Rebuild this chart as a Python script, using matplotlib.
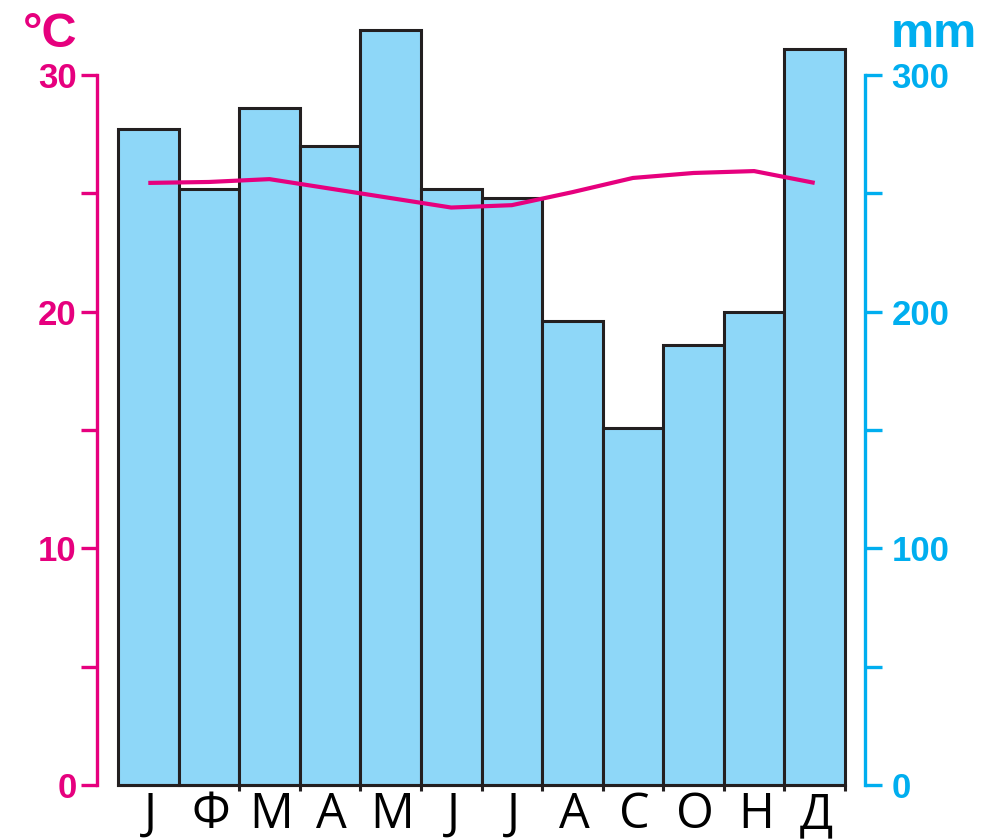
import matplotlib
matplotlib.use("Agg")
import matplotlib.pyplot as plt
import matplotlib.transforms as mtransforms
import numpy as np

months = ["Ј", "Ф", "М", "А", "М", "Ј", "Ј", "А", "С", "О", "Н", "Д"]
precip_mm = [277, 252, 286, 270, 319, 252, 248, 196, 151, 186, 200, 311]
temp_c = [25.44, 25.48, 25.6, 25.2, 24.8, 24.4, 24.5, 25.05, 25.65, 25.86, 25.94, 25.44]
temp_ticks = [0, 10, 20, 30]
precip_ticks = [0, 100, 200, 300]

MAGENTA = "#E6007E"
CYAN = "#00AEEF"
BARFILL = "#8ED7F8"
EDGE = "#231F20"

W, H = 991, 839
fig = plt.figure(figsize=(W / 100, H / 100), dpi=100)
ax = fig.add_axes([97 / W, (H - 785) / H, (865 - 97) / W, (785 - 75) / H])
ax2 = ax.twinx()
ax.set_zorder(ax2.get_zorder() + 1)
ax.patch.set_visible(False)

x = np.arange(len(months))
ax2.bar(x, precip_mm, width=1.0, color=BARFILL, edgecolor=EDGE,
        linewidth=2.2, clip_on=False, zorder=2)
ax.plot(x, temp_c, color=MAGENTA, linewidth=3, solid_capstyle="butt",
        solid_joinstyle="round", zorder=5)

px_per_unit = (845 - 118) / 12
xl = -0.5 - (118 - 97) / px_per_unit
xr = 11.5 + (865 - 845) / px_per_unit
ax.set_xlim(xl, xr)
ax.set_ylim(0, 30)
ax2.set_ylim(0, 300)

for a in (ax, ax2):
    a.spines["top"].set_visible(False)
ax.spines["right"].set_visible(False)
ax2.spines["left"].set_visible(False)
ax2.spines["bottom"].set_visible(False)

ax.spines["left"].set_color(MAGENTA)
ax.spines["left"].set_linewidth(2.4)
ax2.spines["right"].set_color(CYAN)
ax2.spines["right"].set_linewidth(2.4)
ax.spines["bottom"].set_color(EDGE)
ax.spines["bottom"].set_linewidth(2.2)
ax.spines["bottom"].set_bounds(-0.5, 11.5)

tickfont = dict(family="Liberation Sans", weight="bold", size=25)

ax.set_yticks(temp_ticks)
ax.set_yticks([5, 15, 25], minor=True)
ax.set_yticklabels([str(t) for t in temp_ticks], color=MAGENTA, fontdict=tickfont)
ax.tick_params(axis="y", which="both", direction="out", length=11.5, width=2.4,
               color=MAGENTA, pad=3)

ax2.set_yticks(precip_ticks)
ax2.set_yticks([50, 150, 250], minor=True)
ax2.set_yticklabels([str(t) for t in precip_ticks], color=CYAN, fontdict=tickfont)
ax2.tick_params(axis="y", which="both", direction="out", length=12, width=2.4,
                color=CYAN, pad=7)

ax.set_xticks(np.arange(1.5, 12, 1.0), minor=True)
ax.set_xticks([])
ax.tick_params(axis="x", which="minor", direction="out", length=4, width=2.2,
               color=EDGE)

trans = mtransforms.blended_transform_factory(ax.transData, fig.transFigure)
for i, m in enumerate(months):
    ax.text(i + 0.03, (H - 828) / H, m, transform=trans, ha="center", va="baseline",
            fontsize=35, family="Open Sans", color="black")

fig.text(50 / W, (H - 47) / H, "°C", ha="center", va="baseline", color=MAGENTA,
         family="Liberation Sans", weight="bold", fontsize=35)
fig.text(934 / W, (H - 47) / H, "mm", ha="center", va="baseline", color=CYAN,
         family="Liberation Sans", weight="bold", fontsize=35)

fig.savefig("out.png", dpi=100)
